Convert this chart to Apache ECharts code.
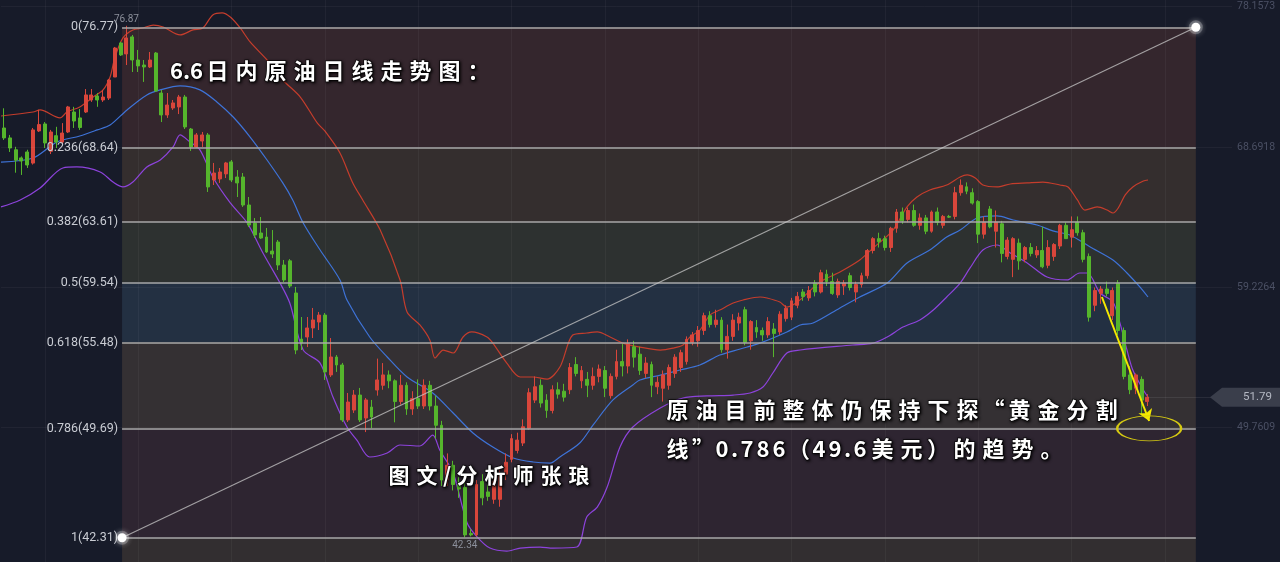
<!DOCTYPE html>
<html><head><meta charset="utf-8">
<script src="https://cdn.jsdelivr.net/npm/echarts@6/dist/echarts.min.js"></script>
<style>html,body{margin:0;padding:0;background:#171b29;overflow:hidden}#c{width:1280px;height:562px}</style>
</head><body><div id="c"></div>
<script>
// ---------- data ----------
// daily candles: [open, high, low, close]
const candles = [
[69.97,71.3,69.16,69.3],[69.3,69.5,68.35,68.62],[68.5,68.7,66.95,67.8],[67.95,68.05,66.8,67.74],[68.35,68.5,67.27,67.47],
[67.6,69.97,67.5,69.84],[69.77,71.2,69.7,70.2],[70.24,70.37,68.62,68.96],[68.4,69.84,68.21,69.7],[69.45,70.05,68.62,69.02],
[69.02,70.3,68.9,69.63],[69.7,71.46,69.63,71.39],[71.05,71.4,69.97,70.44],[70.65,71.25,69.84,70.0],[71.05,72.6,70.98,72.2],
[71.86,72.6,71.73,72.2],[72.13,72.33,71.4,71.86],[71.86,72.54,71.73,72.06],[71.99,73.28,71.86,73.21],[73.41,75.44,73.41,75.37],
[75.71,75.78,74.83,74.9],[74.97,76.87,74.22,76.05],[76.12,76.25,73.75,74.56],[74.56,75.24,73.75,74.16],[74.22,74.56,73.08,74.09],
[74.09,75.1,74.02,74.56],[75.03,75.1,72.4,72.47],[72.33,72.54,70.37,70.85],[70.85,72.33,70.65,71.52],[71.32,71.86,71.19,71.66],
[71.39,72.2,70.91,72.06],[72.06,72.2,69.9,70.04],[69.9,69.97,68.42,68.69],[68.69,69.63,68.62,69.5],[69.09,69.7,68.69,69.5],
[69.5,69.63,65.65,65.99],[66.46,67.61,66.12,66.93],[66.53,67.27,66.26,67.0],[66.87,67.68,66.59,67.61],[67.68,67.81,66.32,66.46],
[66.66,67.13,65.31,66.26],[66.66,66.93,64.64,64.77],[64.77,65.31,63.28,63.42],[63.55,63.89,62.54,62.75],[62.88,63.96,62.48,62.54],
[62.61,63.22,61.53,61.6],[61.66,63.08,61.19,61.46],[62.27,62.41,60.38,60.72],[60.72,61.06,59.57,59.71],[61.0,61.12,59.17,59.3],
[58.83,59.24,54.7,54.98],[55.72,57.21,54.98,55.45],[55.86,57.21,55.18,56.47],[56.47,57.82,55.79,57.01],[56.87,57.55,56.33,57.34],
[57.34,57.48,52.96,53.5],[53.3,55.79,53.16,54.51],[54.51,54.64,53.5,53.97],[53.97,54.11,50.12,50.26],[50.26,52.08,50.12,51.47],
[50.93,52.28,50.73,51.94],[51.94,52.42,50.12,50.26],[50.39,51.74,49.44,51.61],[51.13,51.61,49.71,50.46],[52.28,54.4,51.9,52.96],
[52.6,54.1,52.3,53.3],[53.3,53.6,52.4,52.9],[52.9,53.0,50.1,51.5],[51.5,53.3,51.3,52.6],[52.6,52.8,50.6,51.0],
[51.0,52.2,50.6,51.7],[51.7,53.0,51.0,51.2],[51.2,53.0,51.0,52.6],[52.6,52.9,50.9,51.2],[51.2,51.9,49.0,49.9],
[49.9,50.2,45.8,46.2],[46.2,48.0,45.8,47.2],[47.2,47.5,45.5,45.9],[45.9,46.4,45.0,45.6],[45.7,46.0,42.34,42.5],
[42.6,42.9,42.4,42.5],[42.5,46.2,42.4,45.9],[46.1,46.6,44.5,45.0],[45.4,45.9,44.8,45.1],[44.9,46.3,44.6,46.1],
[44.9,47.0,44.4,46.6],[46.6,48.0,46.2,47.4],[47.6,49.3,47.4,49.0],[48.2,49.4,48.0,48.9],[48.7,50.3,48.5,49.8],
[49.7,52.4,49.6,52.1],[51.6,53.2,51.4,52.5],[52.6,53.0,51.1,51.4],[51.6,52.0,50.4,50.9],[50.9,52.6,50.7,52.3],
[52.3,52.8,51.7,52.0],[52.2,52.7,51.5,51.8],[52.3,54.1,52.0,53.8],[54.0,54.5,53.2,53.4],[52.9,53.9,52.4,53.6],
[53.0,53.5,51.8,52.6],[52.6,53.8,52.3,53.2],[53.2,54.0,52.8,53.7],[53.6,53.9,51.8,52.4],[51.9,53.4,51.7,53.2],
[53.2,55.0,53.0,54.2],[54.2,55.4,53.2,53.9],[53.9,55.7,53.4,55.4],[55.2,55.6,53.8,54.5],[54.7,55.2,53.3,53.6],
[53.4,54.5,53.1,54.1],[54.0,54.2,51.8,52.6],[52.5,53.2,52.0,52.8],[52.4,53.6,51.5,53.3],[52.6,54.0,52.3,53.8],
[53.4,54.7,53.1,54.5],[53.8,55.0,53.5,54.8],[54.2,55.9,54.0,55.7],[55.5,56.2,55.3,56.0],[55.6,56.6,55.2,56.3],
[56.3,57.5,56.0,57.3],[57.3,57.6,56.5,56.7],[56.7,57.7,56.5,57.0],[57.0,57.2,54.8,55.0],[55.0,56.7,54.4,55.9],
[55.9,57.4,55.6,57.0],[56.8,57.5,56.3,57.2],[57.7,57.9,55.3,55.5],[55.6,57.0,55.0,56.9],[56.5,57.0,55.8,56.2],
[56.3,56.5,55.6,56.0],[56.0,57.2,55.8,56.9],[56.4,56.8,54.5,56.1],[56.2,57.6,56.0,57.4],[57.1,58.0,56.9,57.8],
[57.2,58.5,57.0,58.3],[58.0,58.9,57.8,58.6],[58.9,59.1,58.3,58.6],[58.5,59.3,58.3,59.0],[59.5,59.7,58.6,58.9],
[58.9,60.4,58.8,60.2],[60.1,60.4,59.3,59.6],[59.6,60.2,58.7,58.8],[58.7,59.8,58.5,59.6],[59.3,59.7,58.7,59.5],
[60.0,60.2,59.0,59.2],[58.9,59.6,58.2,59.4],[59.4,60.2,59.2,60.0],[60.0,61.8,59.8,61.7],[61.7,62.6,61.5,62.5],
[62.5,62.9,61.9,62.3],[62.5,62.7,61.7,61.9],[61.9,63.3,61.6,63.2],[63.2,64.5,62.9,64.3],[64.3,64.6,63.5,63.7],
[63.8,64.6,63.6,64.4],[64.4,64.8,63.3,63.4],[63.4,64.2,63.1,63.9],[63.9,64.1,62.8,63.0],[63.0,64.4,62.9,64.3],
[64.3,64.6,63.4,63.6],[63.4,64.1,63.2,64.0],[64.0,64.1,63.9,63.95],[64.0,66.0,63.8,65.6],[65.6,66.5,65.4,66.1],
[66.0,66.3,65.5,65.7],[65.6,65.9,64.8,64.9],[65.0,65.1,62.2,62.8],[62.8,64.0,62.5,63.6],[64.5,64.7,63.2,63.3],
[63.0,64.4,61.9,63.6],[63.5,63.7,60.9,61.5],[61.3,62.6,61.1,62.4],[61.1,62.6,59.9,62.5],[62.2,62.5,60.4,61.0],
[61.1,62.0,60.9,61.9],[61.9,62.2,61.3,61.5],[61.4,62.0,61.2,61.7],[61.7,63.3,60.5,60.6],[60.7,62.4,60.5,61.9],
[61.3,62.2,61.0,62.1],[62.0,63.5,61.8,63.4],[63.4,63.6,62.5,62.5],[62.6,64.0,61.9,63.1],[63.6,64.0,62.7,62.9],
[62.9,63.1,60.9,61.1],[61.3,61.5,56.9,57.2],[58.0,59.2,57.6,59.0],[58.8,59.3,58.1,59.1],[59.1,59.6,58.6,58.8],
[57.3,59.2,57.0,59.0],[59.5,59.7,56.0,56.3],[56.3,56.5,53.0,53.2],[53.3,53.9,52.0,52.3],[52.4,53.4,52.0,53.3],
[53.0,53.2,50.6,51.6],[51.5,52.0,51.2,51.79]
];
// Bollinger bands: [slot index, price]
const upperBand = [[-0.5,70.78],[5,71.05],[6.2,71.19],[9.6,70.65],[10.8,71.05],[13,71.39],[15.3,72.06],[17,72.54],[18.2,73.41],[19,74.7],[20.4,76.05],[22.1,76.59],[23.8,76.72],[25.6,76.92],[27.3,76.79],[30.2,76.25],[32.4,76.59],[34.1,76.72],[35.8,77.6],[37.4,77.74],[38.8,77.46],[40.5,76.72],[42.2,75.78],[45.1,74.56],[47.8,73.21],[50.8,72.06],[53.7,70.31],[55,69.77],[57.6,68.28],[59.8,66.26],[61.5,65.11],[64.5,63.08],[67.9,59.71],[69.1,57.55],[71.3,56.67],[73,55.66],[73.9,54.44],[75.3,54.98],[77,54.78],[78.7,55.86],[80.2,56.2],[82.8,55.86],[83.8,55.45],[86.2,54.1],[88.5,53.16],[90.7,53.16],[93.1,53.02],[95.3,53.83],[97.5,55.99],[99.9,56.13],[101.7,56.2],[103.9,55.86],[106.1,55.45],[109,55.18],[112.5,54.98],[114.7,55.11],[116.4,55.32],[117.6,55.86],[119.3,56.33],[121,57.34],[122.7,57.68],[125,58.15],[126.7,58.36],[129.6,58.56],[130.8,58.49],[133,58.22],[134.2,57.88],[136,58.22],[139.9,59.57],[143.3,60.25],[146.7,61.06],[149,61.87],[152.4,63.08],[154.8,64.64],[156.5,65.31],[158.7,65.78],[161.6,66.12],[163.9,66.66],[165.1,66.8],[166.5,66.59],[167.8,66.12],[170.2,65.99],[172.5,66.19],[175.4,66.26],[178.1,66.32],[181,66.12],[182.4,65.99],[184,65.11],[185.3,64.43],[187.4,64.64],[189.1,64.43],[190.1,64.23],[191,64.57],[192.2,65.45],[193.5,65.99],[195.3,66.39],[196.1,66.46]];
const midBand = [[-0.5,67.67],[5,67.94],[9.1,69.02],[13,69.43],[16,69.84],[18.2,70.17],[21.1,71.19],[24.5,72.2],[26.8,72.54],[30.2,72.81],[33.6,72.54],[36.5,71.73],[39.3,70.71],[42.2,69.36],[45.1,67.81],[47.8,66.26],[49.5,65.11],[51.3,63.56],[54.2,61.73],[57.6,59.71],[58.8,58.36],[62.7,55.86],[65.7,54.51],[69.1,53.16],[73.5,52.08],[77,50.73],[80.4,49.38],[83.8,48.43],[87.3,47.69],[90.7,47.42],[93.6,47.35],[95.3,47.76],[98.7,48.7],[101,49.92],[104.4,51.61],[107.8,52.62],[109,52.96],[112.5,53.29],[115.9,53.63],[119.3,53.97],[122.7,54.64],[126.2,55.05],[129.6,55.45],[134.2,56.2],[136.5,56.67],[138.7,56.8],[143.3,57.82],[146.7,58.56],[151.4,59.5],[154.8,60.86],[158.7,61.73],[161.6,62.61],[163.9,63.08],[166.8,63.89],[170.2,64.03],[173,63.76],[177.1,63.42],[179.8,63.02],[182.7,62.75],[186.2,61.94],[190.1,61.06],[192.5,60.18],[194.7,59.24],[196.1,58.56]];
const lowerBand = [[-0.5,64.64],[2.8,65.11],[6.2,65.92],[10.1,67.27],[12.5,67.34],[16.5,67.0],[18.7,66.32],[20.4,65.99],[22.1,66.32],[24.5,67.34],[26.8,67.81],[29,68.69],[30.2,69.5],[31.9,69.02],[33.6,68.49],[35.8,66.66],[38.8,64.91],[41.7,63.56],[44.4,61.53],[47.3,59.52],[49,58.15],[51.3,54.98],[54.2,54.1],[56.4,51.81],[58.8,49.78],[60.5,48.9],[62.7,47.76],[65.7,48.03],[67.9,48.57],[71.3,48.5],[73.5,49.24],[74.7,48.23],[77,46.68],[79.4,43.3],[81.1,42.37],[83.3,41.61],[86.2,41.41],[88.5,41.61],[91.9,41.68],[94.1,41.61],[98.2,41.68],[99.9,43.71],[101.7,44.38],[103.4,45.73],[105.6,48.43],[107.8,49.78],[112.5,51.06],[116.4,51.74],[120.5,51.88],[125,51.94],[127.9,52.08],[130.1,52.48],[131.8,53.43],[134.2,54.78],[136.5,54.98],[145.5,55.32],[149,55.45],[151.4,55.86],[154.1,56.53],[157,57.01],[159.3,57.68],[161.6,58.56],[163.9,59.5],[165.6,60.52],[167.8,61.73],[170.2,62.07],[172.5,61.53],[175.4,60.86],[178.8,59.91],[182.2,59.71],[184.4,60.18],[185.7,60.18],[187.9,58.83],[190.1,58.22],[191.3,56.8],[192.5,54.98],[193.5,53.63],[195.3,52.28],[196.1,51.81]];
// Fibonacci retracement drawn on the chart
const fibRatios = ['0','0.236','0.382','0.5','0.618','0.786','1'];
const fibPrices = [76.77, 68.64, 63.61, 59.54, 55.48, 49.69, 42.31];
const fibAnchors = [[20.25, 42.31], [204.3, 76.77]];      // [slot, price] of the two handles
// right axis ticks and visible price range
const yTicks = [78.1573, 68.6918, 59.2264, 49.7609];
const yRange = [40.67, 78.61];
const slotCount = 211;                                     // bar slots across the plot (incl. empty right margin)
// annotations
const arrowPath = [[188.2, 58.56], [196.3, 50.19]];
const targetZone = [196.3, 49.69];
const titleText = '6.6日内原油日线走势图：';
const authorText = '图文/分析师张琅';
const noteLines = ['原油目前整体仍保持下探“黄金分割', '线”0.786（49.6美元）的趋势。'];

// ---------- styles ----------
const bandColors = ['#34262d', '#342e2e', '#2d3130', '#233042', '#343033', '#2e2531', '#322e30'];
const UP = '#d9463b', DOWN = '#55b52c';

const slots = Array.from({length: slotCount}, (_, i) => String(i));
const vGrid = []; for (let k = 7; k < slotCount; k += 16) vGrid.push(k);

const chart = echarts.init(document.getElementById('c'), null, {renderer: 'canvas'});

const x0 = fibAnchors[0][0], x1 = fibAnchors[1][0];
const bandData = [];
for (let k = 0; k < fibPrices.length - 1; k++) {
  bandData.push([{coord: [x0, fibPrices[k]], itemStyle: {color: bandColors[k]}}, {coord: [x1, fibPrices[k + 1]]}]);
}
bandData.push([{coord: [x0, fibPrices[fibPrices.length - 1]], itemStyle: {color: bandColors[6]}}, {coord: [x1, yRange[0]]}]);

const fibLineData = fibPrices.map((p, k) => [
  {name: fibRatios[k] + '(' + p.toFixed(2) + ')', coord: [x0, p]},
  {coord: [x1, p]}
]);

function richText(str, widths, base) {
  const rich = {};
  const keyOf = ch => /[0-9]/.test(ch) ? 'd' : ch === '.' ? 'p' : '“”'.includes(ch) ? 'q' : '（）'.includes(ch) ? 'b' : ch === '/' ? 's' : 'c';
  ['c', 'd', 'p', 'q', 'b', 's'].forEach(k => { rich[k] = Object.assign({width: widths[k], align: 'center'}, base); });
  const text = Array.from(str).map(ch => '{' + keyOf(ch) + '|' + ch + '}').join('');
  return {text, rich};
}
const brush = {
  fontFamily: 'Noto Sans CJK SC', fontWeight: 'bold', fill: '#ffffff',
  textShadowColor: 'rgba(0,0,0,0.95)', textShadowBlur: 3, textShadowOffsetX: 1, textShadowOffsetY: 1,
  stroke: 'rgba(0,0,0,0.7)', lineWidth: 1.5
};
function makeText(str, x, y, size, widths) {
  const base = Object.assign({fontSize: size}, brush);
  const r = richText(str, widths, base);
  return {type: 'text', x, y, z: 100, silent: true,
    style: Object.assign({text: r.text, rich: r.rich, verticalAlign: 'middle', align: 'left'}, base)};
}

const hiddenHost = {type: 'line', xAxisIndex: 1, symbol: 'none', silent: true, lineStyle: {opacity: 0}, data: fibAnchors};

const option = {
  animation: false,
  backgroundColor: '#171b29',
  grid: {left: 1, right: 48, top: 0, bottom: 0},
  xAxis: [
    {type: 'category', data: slots, show: false, boundaryGap: true},
    {type: 'value', min: -0.5, max: slotCount - 0.5, show: false}
  ],
  yAxis: {
    type: 'value', position: 'right', min: yRange[0], max: yRange[1],
    splitLine: {show: false}, axisLine: {show: false}, axisTick: {show: false},
    axisLabel: {customValues: yTicks, formatter: v => v.toFixed(4), color: '#4b5064', fontSize: 10.5, fontFamily: 'Roboto', margin: 5}
  },
  series: [
    Object.assign({}, hiddenHost, {z: 1, markArea: {silent: true, data: bandData}}),
    Object.assign({}, hiddenHost, {z: 2, markLine: {silent: true, symbol: 'none', label: {show: false},
      lineStyle: {color: 'rgba(255,255,255,0.045)', type: 'solid', width: 1},
      data: vGrid.map(v => ({xAxis: v})).concat(yTicks.map(v => ({yAxis: v})))}}),
    Object.assign({}, hiddenHost, {z: 3, markLine: {silent: true, symbol: 'none',
      lineStyle: {color: '#a8a8a8', type: 'solid', width: 1.5},
      label: {show: true, position: 'start', formatter: '{b}', color: '#c9ccd3', fontSize: 12.5, fontFamily: 'Roboto', distance: 4},
      data: fibLineData}}),
    {type: 'line', xAxisIndex: 1, data: upperBand, smooth: 0.3, showSymbol: false, silent: true, z: 3, lineStyle: {color: '#c53d2c', width: 1.2}},
    {type: 'line', xAxisIndex: 1, data: midBand, smooth: 0.3, showSymbol: false, silent: true, z: 3, lineStyle: {color: '#3e73d8', width: 1.2}},
    {type: 'line', xAxisIndex: 1, data: lowerBand, smooth: 0.3, showSymbol: false, silent: true, z: 3, lineStyle: {color: '#8d43dc', width: 1.2}},
    {type: 'candlestick', xAxisIndex: 0, z: 4, barWidth: 3.4, silent: true,
      data: candles.map(c => [c[0], c[3], c[2], c[1]]),
      itemStyle: {color: UP, color0: DOWN, borderColor: UP, borderColor0: DOWN, borderWidth: 1},
      markPoint: {silent: true, symbol: 'circle', symbolSize: 1, itemStyle: {color: 'rgba(0,0,0,0)'},
        label: {color: '#8b8f9a', fontSize: 10, fontFamily: 'Roboto', formatter: p => p.value.toFixed(2)},
        data: [
          {type: 'max', valueDim: 'highest', label: {position: 'top', distance: 1}},
          {type: 'min', valueDim: 'lowest', label: {position: 'bottom', distance: 3}}
        ]},
      markLine: {silent: true, symbol: 'none', label: {show: false}, lineStyle: {color: 'rgba(255,255,255,0.08)', type: 'solid', width: 1},
        data: [[{coord: [candles.length - 1, candles[candles.length - 1][3]]}, {coord: [slotCount - 1, candles[candles.length - 1][3]]}]]}
    },
    {type: 'line', xAxisIndex: 1, data: fibAnchors, z: 5, silent: true,
      lineStyle: {color: 'rgba(200,200,200,0.75)', width: 1.2},
      symbol: 'circle', symbolSize: 9, showSymbol: true,
      itemStyle: {color: '#ffffff', borderColor: 'rgba(255,255,255,0.22)', borderWidth: 5, shadowBlur: 6, shadowColor: 'rgba(255,255,255,0.6)'}},
    Object.assign({}, hiddenHost, {z: 6, data: arrowPath,
      markLine: {silent: true, symbol: ['none', 'arrow'], symbolSize: 11, label: {show: false},
        lineStyle: {color: '#f4e800', width: 2, type: 'solid'},
        data: [[{coord: arrowPath[0]}, {coord: arrowPath[1]}]]},
      markPoint: {silent: true, symbol: 'circle', symbolSize: [64, 25], label: {show: false},
        itemStyle: {color: 'rgba(0,0,0,0)', borderColor: '#d6ca12', borderWidth: 1.5},
        data: [{coord: targetZone}]}})
  ]
};
chart.setOption(option);

// current price tag on the right axis, placed through the y scale
const lastClose = candles[candles.length - 1][3];
const py = chart.convertToPixel({yAxisIndex: 0}, lastClose);
const W = chart.getWidth();
chart.setOption({graphic: [
  makeText(titleText, 170, 71, 22, {c: 29, d: 13, p: 7, q: 22, b: 22, s: 12}),
  makeText(authorText, 385, 475, 21, {c: 28, d: 13, p: 7, q: 22, b: 22, s: 12}),
  makeText(noteLines[0], 663, 410, 22, {c: 29, d: 16, p: 9, q: 23, b: 24, s: 12}),
  makeText(noteLines[1], 663, 449, 22, {c: 29, d: 16, p: 9, q: 22, b: 24, s: 12}),
  {type: 'polygon', silent: true, z: 90, shape: {points: [[W - 70, py], [W - 58, py - 9.5], [W, py - 9.5], [W, py + 9.5], [W - 58, py + 9.5]]},
    style: {fill: '#3a3e4b'}},
  {type: 'text', silent: true, z: 91, x: W - 8, y: py,
    style: {text: lastClose.toFixed(2), fill: '#b4b8c3', fontSize: 11.5, fontFamily: 'Roboto', align: 'right', verticalAlign: 'middle'}}
]});
</script>
</body></html>
